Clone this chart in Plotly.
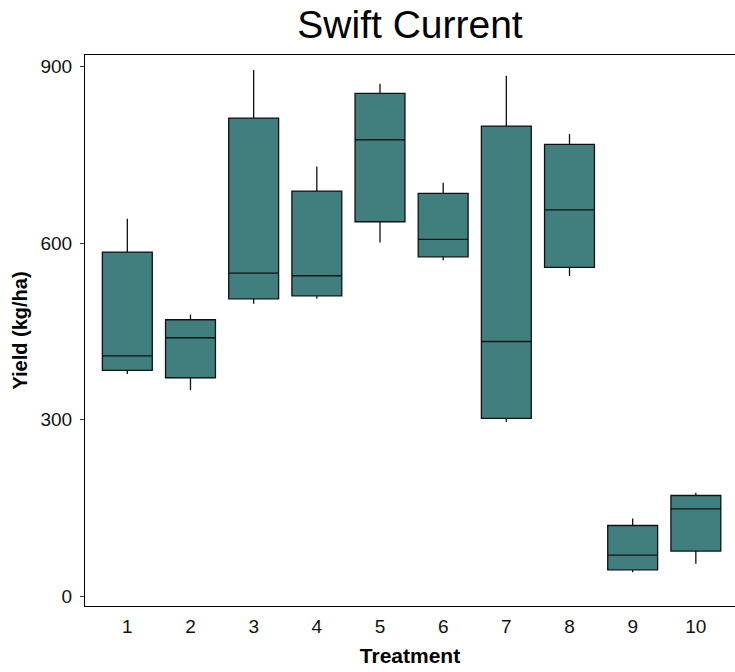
import plotly.graph_objects as go

treatments = [1, 2, 3, 4, 5, 6, 7, 8, 9, 10]
tick_labels = ["1", "2", "3", "4", "5", "6", "7", "8", "9", "10"]
lower_whisker = [377.6, 350.5, 497.0, 505.5, 601.1, 571.0, 296.1, 544.1, 41.4, 55.5]
q1 = [383.8, 371.4, 505.5, 510.6, 636.3, 576.8, 302.3, 558.7, 45.3, 77.1]
median = [408.7, 439.3, 549.2, 544.6, 775.5, 606.2, 433.0, 656.6, 70.3, 148.9]
q3 = [584.8, 469.9, 812.3, 688.4, 854.2, 684.4, 798.7, 767.5, 120.6, 171.5]
upper_whisker = [641.4, 478.9, 894.0, 729.9, 870.6, 702.5, 884.2, 785.2, 132.5, 176.1]

FONT = "Liberation Sans, Arial, Helvetica, sans-serif"

fig = go.Figure()
fig.add_trace(go.Box(
    x=treatments,
    q1=q1, median=median, q3=q3,
    lowerfence=lower_whisker, upperfence=upper_whisker,
    fillcolor="#417f7e",
    line=dict(color="#111111", width=1.3),
    whiskerwidth=0,
    width=0.79,
    boxpoints=False,
    showlegend=False,
))

fig.update_layout(
    width=735, height=672,
    margin=dict(l=85, r=0, t=55, b=66),
    paper_bgcolor="white", plot_bgcolor="white",
    font=dict(family=FONT, color="black"),
    title=dict(text="Swift Current", font=dict(size=39, family=FONT, color="black"),
               x=0.5, xref="paper", xanchor="center",
               y=1 - 24 / 672, yref="container", yanchor="middle"),
    xaxis=dict(
        range=[0.33, 10.62], tickmode="array", tickvals=treatments, ticktext=tick_labels,
        showline=True, linecolor="black", linewidth=1, mirror=True,
        ticks="", showgrid=False, zeroline=False,
        tickfont=dict(size=19, color="#111111"), ticklabelstandoff=3,
        title=dict(text="<b>Treatment</b>", font=dict(size=21), standoff=12),
    ),
    yaxis=dict(
        range=[-16.1, 919.4], tickmode="array", tickvals=[0, 300, 600, 900],
        ticktext=["0", "300", "600", "900"],
        showline=True, linecolor="black", linewidth=1,
        ticks="outside", ticklen=4, tickcolor="#333333",
        showgrid=False, zeroline=False,
        tickfont=dict(size=19, color="#111111"), ticklabelstandoff=4,
        title=dict(text="<b>Yield (kg/ha)</b>", font=dict(size=20), standoff=7),
    ),
)

fig.write_html("out.html")
